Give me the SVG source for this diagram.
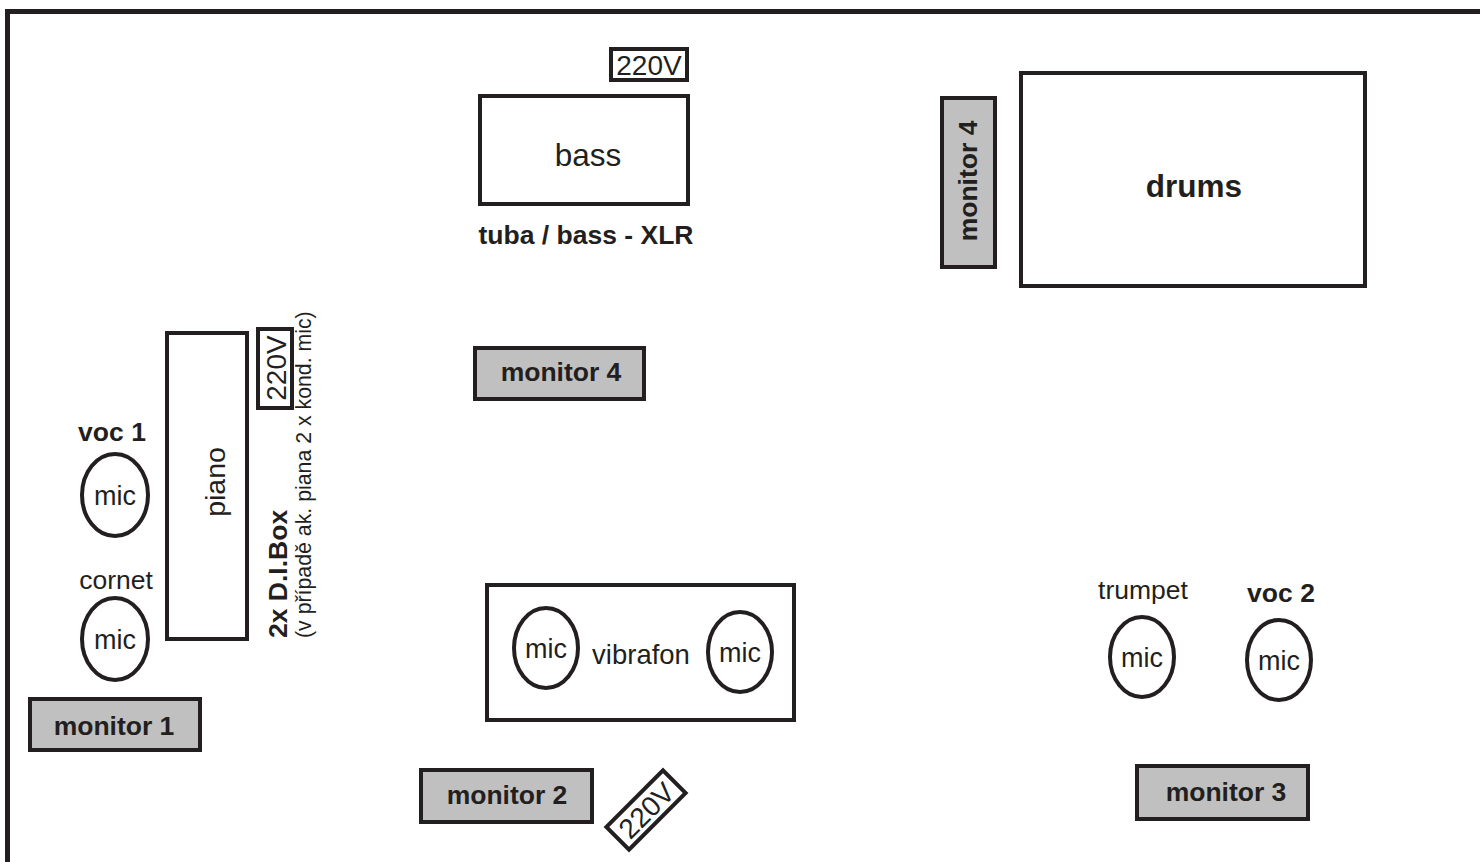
<svg xmlns="http://www.w3.org/2000/svg" width="1480" height="862" viewBox="0 0 1480 862">
<style>
.b{fill:#fff;stroke:#231f20;stroke-width:4}
.m{fill:#c0c0c0;stroke:#231f20;stroke-width:4}
.e{fill:#fff;stroke:#231f20;stroke-width:4}
text{font-family:"Liberation Sans",Arial,sans-serif;fill:#231f20;text-anchor:middle;dominant-baseline:central}
.bd{font-weight:bold;font-size:26.5px}
.r{font-size:27.5px}
.mc{font-size:27px}
</style>
<rect width="1480" height="862" fill="#fff"/>
<path d="M7.5,880 V11.5 H1500" fill="none" stroke="#231f20" stroke-width="5"/>
<g id="bass"><rect class="b" x="480" y="96" width="208" height="108"/><text x="588" y="155" style="font-size:31.5px">bass</text></g>
<g id="bass-220v"><rect class="b" x="611" y="49" width="76" height="31"/><text x="649" y="65" style="font-size:28px">220V</text></g>
<g id="bass-label"><text class="bd" x="586" y="235">tuba / bass - XLR</text></g>
<g id="drums"><rect class="b" x="1021" y="73" width="344" height="213"/><text x="1194" y="186" style="font-size:31.5px;font-weight:bold">drums</text></g>
<g id="monitor4v"><rect class="m" x="942" y="98" width="53" height="169"/><text class="bd" transform="translate(968,181) rotate(-90)">monitor 4</text></g>
<g id="monitor4h"><rect class="m" x="475" y="348" width="169" height="51"/><text class="bd" x="561" y="372">monitor 4</text></g>
<g id="piano"><rect class="b" x="167" y="333" width="80" height="306"/><text transform="translate(215,482) rotate(-90)" style="font-size:28.5px">piano</text></g>
<g id="piano-220v"><rect class="b" x="258" y="329" width="34" height="79"/><text transform="translate(276,368) rotate(-90)" style="font-size:28px">220V</text></g>
<g id="dibox"><text class="bd" transform="translate(278,638) rotate(-90)" style="text-anchor:start">2x D.I.Box</text><text transform="translate(304,638) rotate(-90)" style="text-anchor:start;font-size:21.3px">(v případě ak. piana 2 x kond. mic)</text></g>
<g id="voc1"><text class="bd" x="112" y="432">voc 1</text><ellipse class="e" cx="115" cy="495" rx="33" ry="41"/><text class="mc" x="115" y="496">mic</text></g>
<g id="cornet"><text x="116" y="580" style="font-size:26.5px">cornet</text><ellipse class="e" cx="115" cy="639" rx="33" ry="41"/><text class="mc" x="115" y="640">mic</text></g>
<g id="monitor1"><rect class="m" x="30" y="699" width="170" height="51"/><text class="bd" x="114" y="726">monitor 1</text></g>
<g id="vibrafon"><rect class="b" x="487" y="585" width="307" height="135"/><text class="r" x="641" y="654">vibrafon</text><ellipse class="e" cx="546" cy="648" rx="32" ry="40"/><text class="mc" x="546" y="649">mic</text><ellipse class="e" cx="740" cy="652" rx="32" ry="40"/><text class="mc" x="740" y="653">mic</text></g>
<g id="monitor2"><rect class="m" x="421" y="770" width="171" height="52"/><text class="bd" x="507" y="795">monitor 2</text></g>
<g id="floor-220v"><g transform="translate(646,810) rotate(-45)"><rect class="b" x="-40" y="-16" width="80" height="32"/><text x="0" y="1" style="font-size:28px">220V</text></g></g>
<g id="trumpet"><text x="1143" y="590" style="font-size:26.5px">trumpet</text><ellipse class="e" cx="1142" cy="657" rx="32" ry="40"/><text class="mc" x="1142" y="658">mic</text></g>
<g id="voc2"><text class="bd" x="1281" y="593">voc 2</text><ellipse class="e" cx="1279" cy="660" rx="32" ry="40"/><text class="mc" x="1279" y="661">mic</text></g>
<g id="monitor3"><rect class="m" x="1137" y="766" width="171" height="53"/><text class="bd" x="1226" y="792">monitor 3</text></g>
<g id="connectors"></g>
</svg>
